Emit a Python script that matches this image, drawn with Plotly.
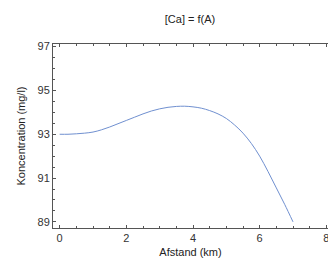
import plotly.graph_objects as go

afstand = [0.0, 0.25, 0.5, 0.75, 1.0, 1.25, 1.5, 1.75, 2.0, 2.25, 2.5, 2.75, 3.0, 3.25, 3.5, 3.75,
           4.0, 4.25, 4.5, 4.75, 5.0, 5.25, 5.5, 5.75, 6.0, 6.25, 6.5, 6.75, 7.0]
koncentration = [93.0, 93.0, 93.02, 93.05, 93.1, 93.2, 93.33, 93.48, 93.63, 93.78, 93.93, 94.06,
                 94.16, 94.23, 94.27, 94.28, 94.25, 94.19, 94.08, 93.93, 93.72, 93.42, 93.05,
                 92.58, 92.0, 91.3, 90.55, 89.8, 89.0]

x_ticks = [0, 2, 4, 6, 8]
y_ticks = [89, 91, 93, 95, 97]
x_range = [-0.2, 8.05]

fig = go.Figure()
fig.add_trace(go.Scatter(x=afstand, y=koncentration, mode="lines", line_shape="spline",
                         line=dict(color="#7090d0", width=1), hoverinfo="skip"))
# invisible trace to carry the top (mirror) axis
fig.add_trace(go.Scatter(x=[afstand[0]], y=[koncentration[0]], xaxis="x2", mode="markers",
                         marker=dict(opacity=0), hoverinfo="skip"))

font = dict(family="Liberation Sans, Arial", size=11, color="#333333")
title_font = dict(family="Liberation Sans, Arial", size=11, color="#222222")
axis_common = dict(showgrid=False, zeroline=False, showline=True, linecolor="#555555", linewidth=1,
                   ticks="inside", ticklen=3, tickcolor="#555555", tickfont=font)
minor = dict(dtick=0.5, ticks="inside", ticklen=2, tickcolor="#555555")

fig.update_layout(
    xaxis=dict(range=x_range, tickvals=x_ticks, minor=minor, ticklabeloverflow="allow",
               title=dict(text="Afstand (km)", font=title_font, standoff=5),
               **axis_common),
    xaxis2=dict(range=x_range, tickvals=x_ticks, minor=minor, overlaying="x", side="top",
                showticklabels=False, anchor="y", **axis_common),
    yaxis=dict(range=[88.72, 97.12], tickvals=y_ticks, minor=minor,
               title=dict(text="Koncentration (mg/l)", font=title_font, standoff=9),
               **axis_common),
    width=328, height=262,
    margin=dict(l=53, r=0, t=44, b=34),
    paper_bgcolor="white", plot_bgcolor="white",
    showlegend=False,
    title=dict(text="[Ca] = f(A)", x=190/328, xanchor="center", y=1-19/262, yanchor="middle",
               font=title_font),
)

fig.write_html("out.html", config={"displayModeBar": False},
               post_script="document.body.style.margin='0';document.body.style.overflow='hidden';")
